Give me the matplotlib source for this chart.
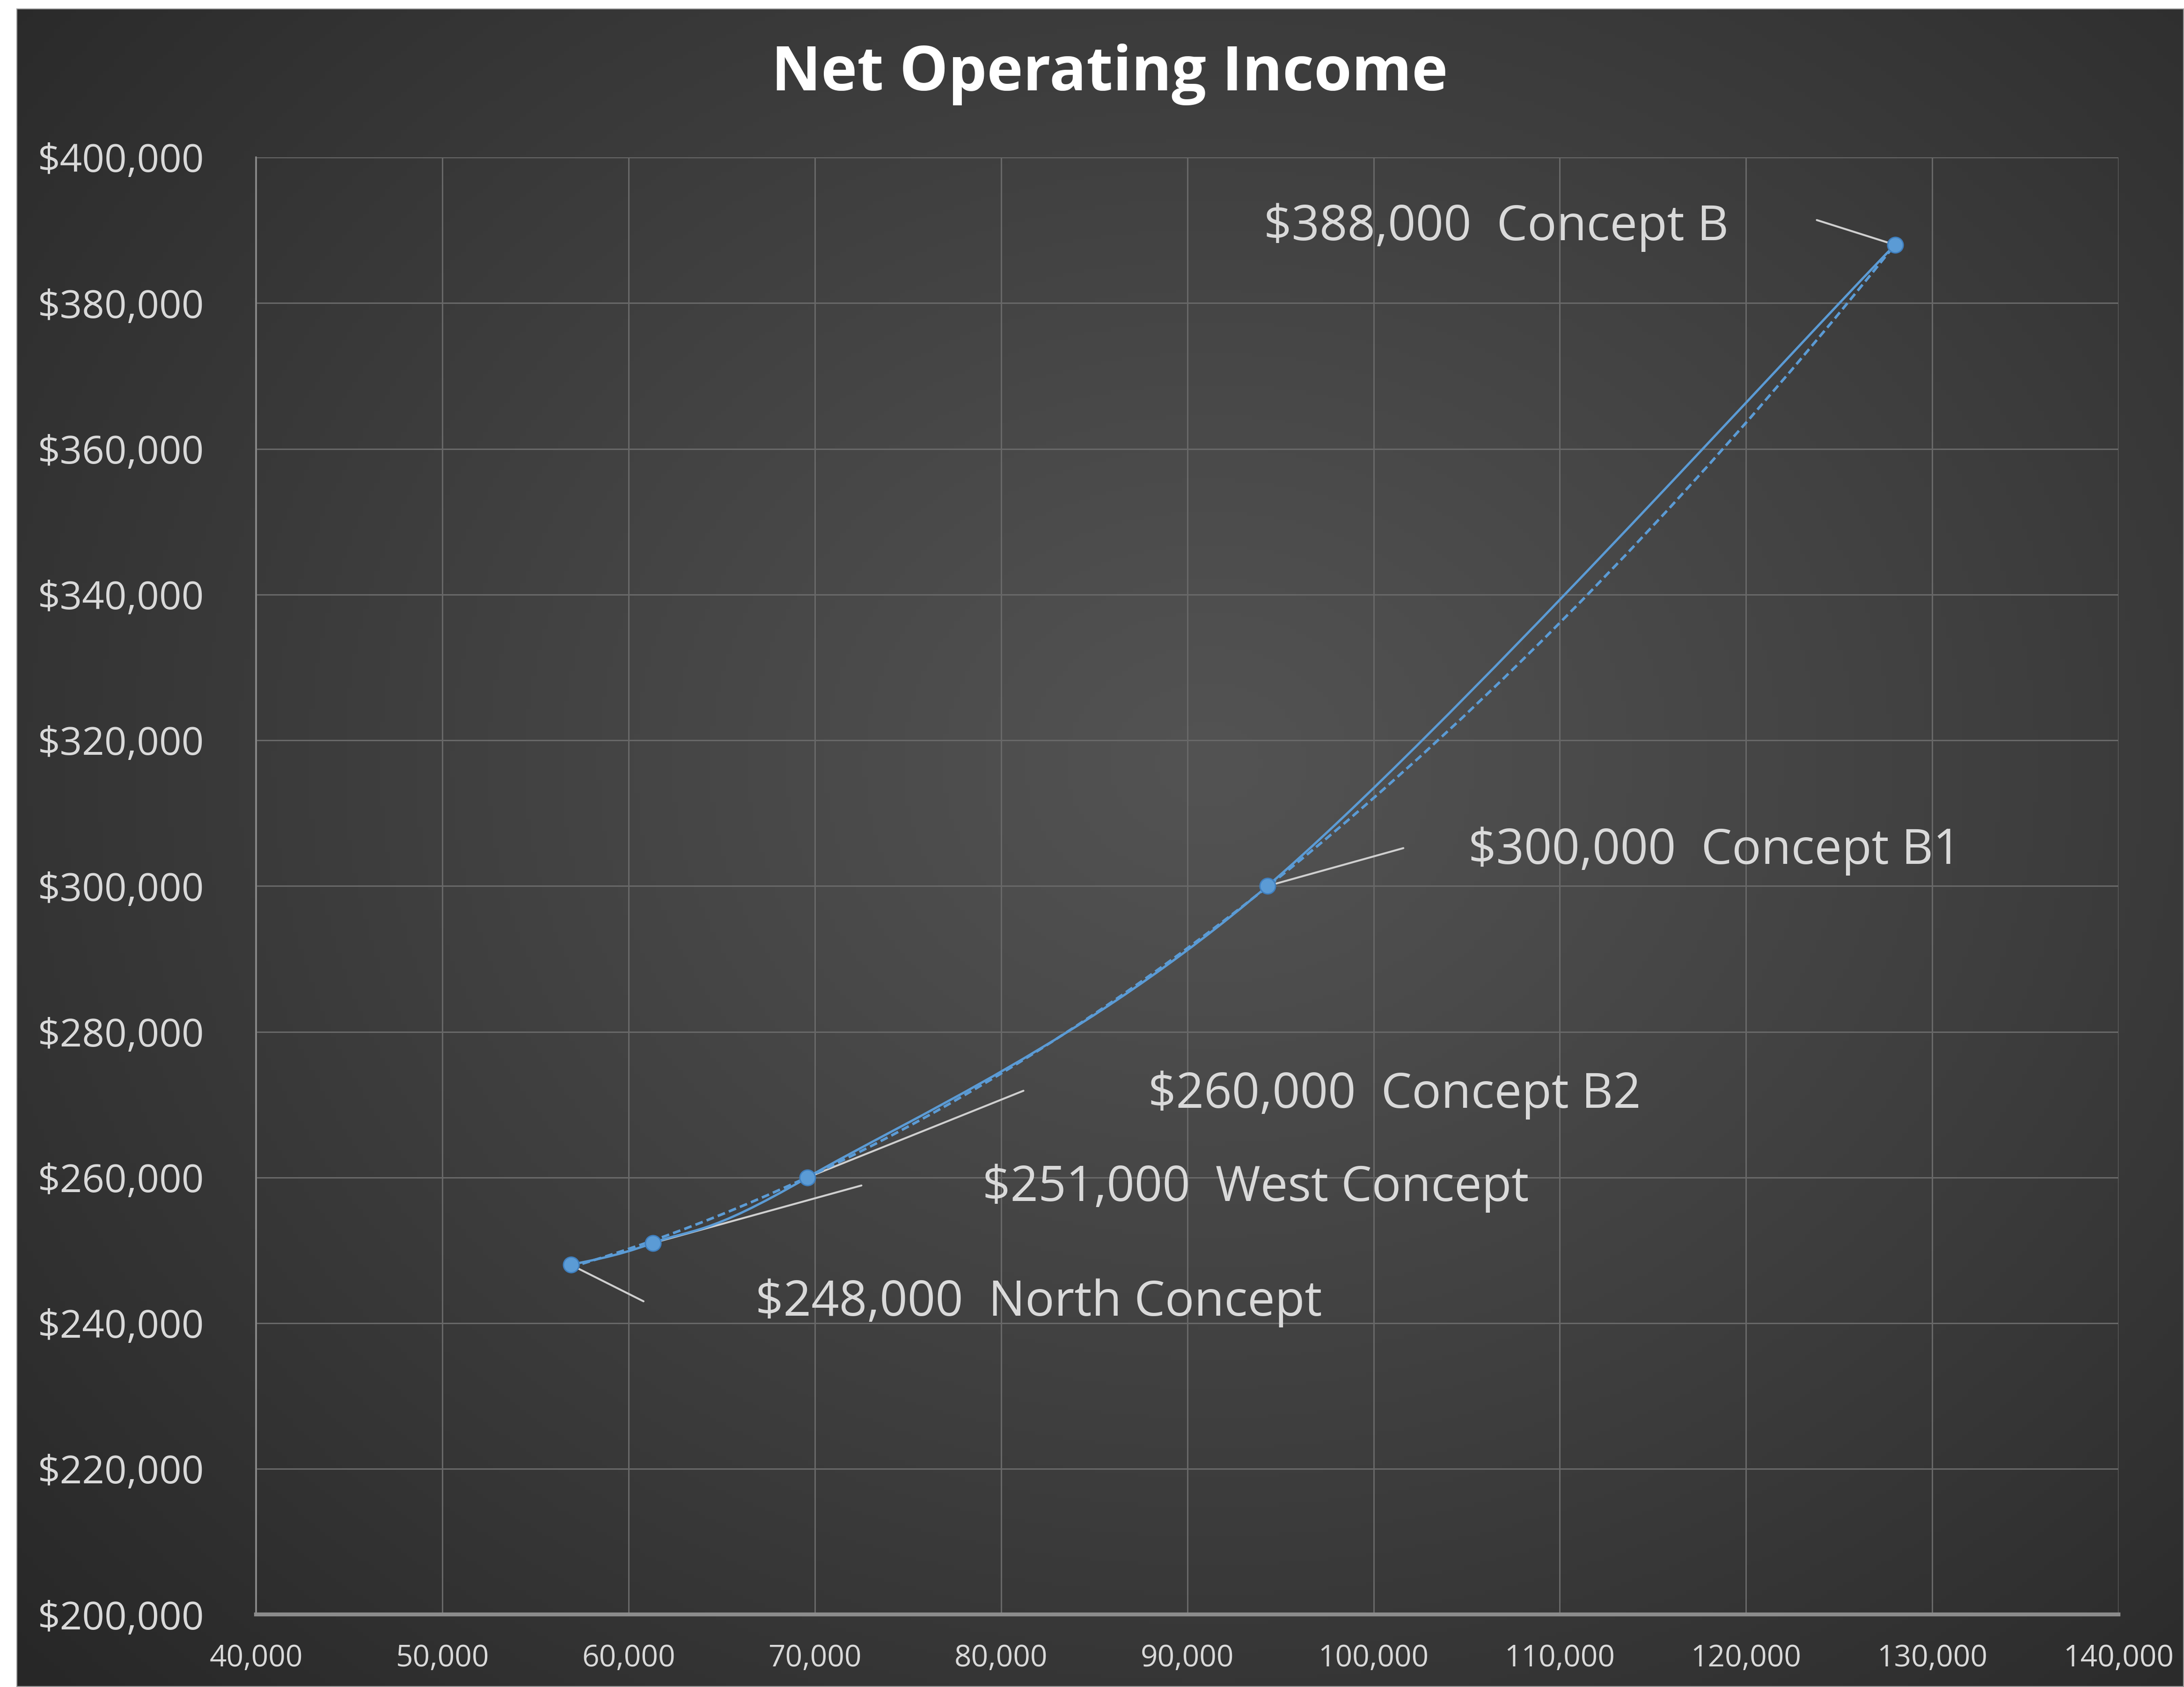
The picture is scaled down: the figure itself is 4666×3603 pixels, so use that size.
import numpy as np
import matplotlib.pyplot as plt
from matplotlib.path import Path
from matplotlib.patches import PathPatch, Rectangle
from matplotlib.ticker import FuncFormatter, MultipleLocator

# Net operating income for each concept
concepts = ["North Concept", "West Concept", "Concept B2", "Concept B1", "Concept B"]
sizes = [56900, 61300, 69600, 94300, 128000]
noi = [248000, 251000, 260000, 300000, 388000]

# where the data labels sit, and where their leader lines stop
label_x = [66800, 79000, 87900, 105100, 94100]
label_y = [242800, 258500, 271300, 304800, 390400]
leader_x = [60800, 72500, 81200, 101600, 123800]
leader_y = [243000, 258900, 271900, 305200, 391400]

BLUE = "#5b9bd5"
TEXT = "#d9d9d9"
plt.rcParams["font.family"] = ["Open Sans", "DejaVu Sans"]


def smooth_path(xs, ys):
    # Excel-like smoothed line: cubic bezier through every point
    pts = np.column_stack([xs, ys]).astype(float)
    ext = np.vstack([pts[0], pts, pts[-1]])
    verts = [pts[0]]
    codes = [Path.MOVETO]
    for i in range(len(pts) - 1):
        p0, p1, p2, p3 = ext[i], ext[i + 1], ext[i + 2], ext[i + 3]
        verts += [p1 + (p2 - p0) / 6, p2 - (p3 - p1) / 6, p2]
        codes += [Path.CURVE4] * 3
    return Path(verts, codes)


def poly2_path(xs, ys):
    # 2nd order trendline, drawn as one quadratic bezier
    f = np.poly1d(np.polyfit(xs, ys, 2))
    x0, x1 = min(xs), max(xs)
    ctrl = ((x0 + x1) / 2, f(x0) + f.deriv()(x0) * (x1 - x0) / 2)
    return Path([(x0, f(x0)), ctrl, (x1, f(x1))], [Path.MOVETO, Path.CURVE3, Path.CURVE3])


fig = plt.figure(figsize=(23.33, 18.015), dpi=200)
fig.patch.set_facecolor("white")

# dark radial background
bg = fig.add_axes([0.0075, 0, 0.9925, 0.995])
bg.set_axis_off()
gx, gy = np.meshgrid(np.linspace(0, 1, 400), np.linspace(0, 1, 400))
d = np.sqrt(((gx - 0.55) / 0.75) ** 2 + ((gy - 0.45) / 0.8) ** 2)
t = np.clip(d, 0, 1) ** 1.1
c_in = np.array([0x53, 0x53, 0x53]) / 255
c_out = np.array([0x27, 0x27, 0x27]) / 255
img = c_in[None, None, :] * (1 - t[..., None]) + c_out[None, None, :] * t[..., None]
bg.imshow(img, extent=[0, 1, 0, 1], aspect="auto", origin="upper")
bg.add_patch(Rectangle((0, 0), 1, 1, transform=bg.transAxes, fill=False,
                       edgecolor="#9a9a9a", lw=1.5))

ax = fig.add_axes([0.1173, 0.0429, 0.8527, 0.8638])
ax.set_facecolor("none")
ax.set_xlim(40000, 140000)
ax.set_ylim(200000, 400000)
ax.xaxis.set_major_locator(MultipleLocator(10000))
ax.yaxis.set_major_locator(MultipleLocator(20000))
ax.xaxis.set_major_formatter(FuncFormatter(lambda v, p: f"{v:,.0f}"))
ax.yaxis.set_major_formatter(FuncFormatter(lambda v, p: f"${v:,.0f}"))
ax.grid(True, color="#686868", lw=1.1)
ax.set_axisbelow(True)
for s in ["top", "right"]:
    ax.spines[s].set_visible(False)
ax.spines["left"].set_color("#8a8a8a")
ax.spines["left"].set_linewidth(1.3)
ax.spines["bottom"].set_color("#8c8c8c")
ax.spines["bottom"].set_linewidth(3)
ax.tick_params(axis="y", length=0, pad=40, labelsize=30, labelcolor=TEXT)
ax.tick_params(axis="x", length=0, pad=22, labelsize=23, labelcolor=TEXT)

ax.add_patch(PathPatch(smooth_path(sizes, noi), fill=False, edgecolor=BLUE, lw=1.8, zorder=3))
ax.add_patch(PathPatch(poly2_path(sizes, noi), fill=False, edgecolor=BLUE, lw=2.0,
                       linestyle=(0, (3, 1.6)), zorder=3))
ax.plot(sizes, noi, "o", color=BLUE, ms=12, mec="#3f7fbf", mew=1, zorder=4)

for i, name in enumerate(concepts):
    ax.annotate("", xy=(sizes[i], noi[i]), xytext=(leader_x[i], leader_y[i]),
                arrowprops=dict(arrowstyle="-", color="#cfcfcf", lw=1.5,
                                shrinkA=0, shrinkB=0), zorder=2)
    ax.text(label_x[i], label_y[i], f"${noi[i]:,.0f}  {name}", color=TEXT,
            fontsize=37.5, ha="left", va="center", zorder=5)

fig.text(0.508, 0.956, "Net Operating Income", color="white", fontsize=47,
         fontweight="bold", ha="center", va="center")

fig.savefig("out.png", dpi=200)
